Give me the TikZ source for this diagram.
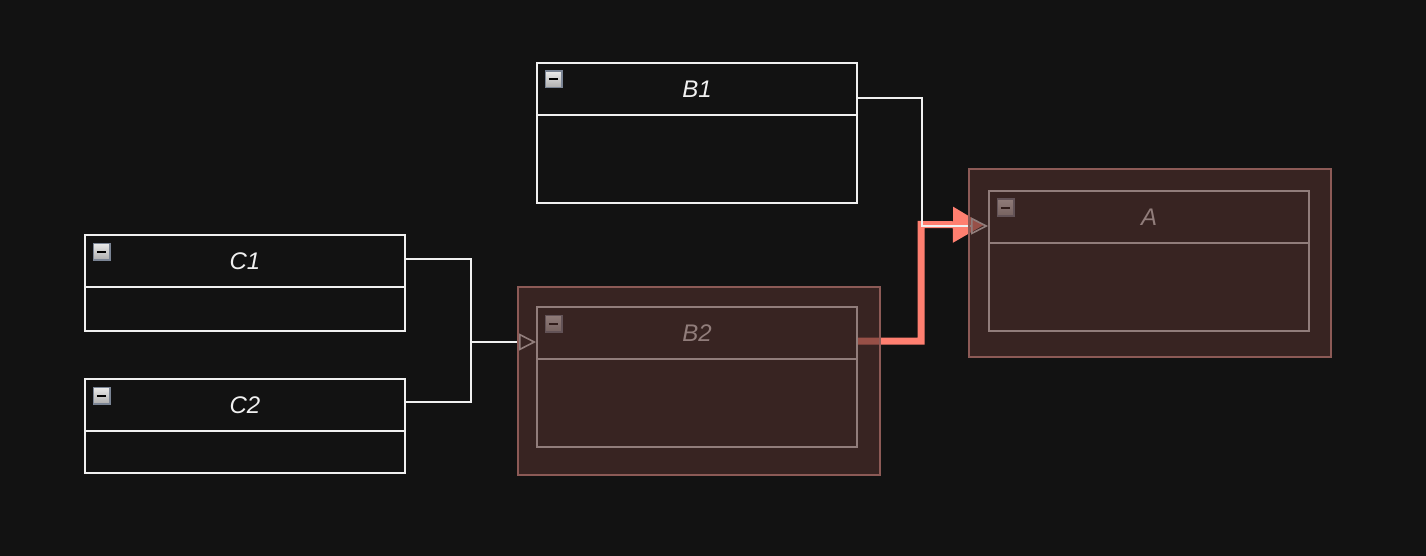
\documentclass[tikz,border=0pt]{standalone}
\usepackage{fontspec}
\setmainfont{Liberation Sans}
\usetikzlibrary{arrows.meta}
\definecolor{bg}{HTML}{121212}
\definecolor{fg}{HTML}{F0F0F0}
\definecolor{ovl}{RGB}{82,49,45}
\definecolor{ovlline}{RGB}{140,90,86}
\definecolor{hot}{RGB}{255,127,112}
\definecolor{iconborder}{RGB}{122,132,148}
\tikzset{
  hdr/.style={draw=fg, line width=2pt, fill=bg, minimum width=320pt, minimum height=52pt, inner sep=0pt,
    text=fg, font=\fontsize{24}{28}\selectfont\itshape},
  bodybox/.style={draw=fg, line width=2pt, fill=bg, minimum width=320pt, inner sep=0pt},
  icon/.style={draw=iconborder, line width=1.5pt, minimum size=16.5pt, inner sep=0pt,
    top color=white!92!black, bottom color=white!68!black,
    path picture={\draw[black, line width=2pt] ([xshift=3.5pt]path picture bounding box.west) -- ([xshift=-3.5pt]path picture bounding box.east);}},
  conn/.style={draw=fg, line width=1.6pt},
  opentip/.style={-{Triangle[open, length=17pt, width=17pt, line width=1.6pt]}},
  hotline/.style={draw=hot, line width=7pt, -{Triangle[length=31pt, width=34pt]}},
  overlay box/.style={fill=ovl, fill opacity=0.6, draw=ovlline, line width=2pt, minimum width=362pt, minimum height=188pt, inner sep=0pt},
}
\begin{document}
\begin{tikzpicture}[x=1pt,y=-1pt]
\fill[bg] (0,0) rectangle (1426,556);
\useasboundingbox (0,0) rectangle (1426,556);

% B1
\node[bodybox, minimum height=88pt] (B1b) at (697,159) {};
\node[hdr] (B1) at (697,89) {B1};
\node[icon] (B1i) at ([xshift=17.5pt,yshift=-17.5pt]B1.north west) {};
% C1
\node[bodybox, minimum height=44pt] (C1b) at (245,309) {};
\node[hdr] (C1) at (245,261) {C1};
\node[icon] (C1i) at ([xshift=17.5pt,yshift=-17.5pt]C1.north west) {};
% C2
\node[bodybox, minimum height=42pt] (C2b) at (245,452) {};
\node[hdr] (C2) at (245,405) {C2};
\node[icon] (C2i) at ([xshift=17.5pt,yshift=-17.5pt]C2.north west) {};
% B2
\node[bodybox, minimum height=88pt] (B2b) at (697,403) {};
\node[hdr] (B2) at (697,333) {B2};
\node[icon] (B2i) at ([xshift=17.5pt,yshift=-17.5pt]B2.north west) {};
% A
\node[bodybox, minimum height=88pt] (Ab) at (1149,287) {};
\node[hdr] (A) at (1149,217) {A};
\node[icon] (Ai) at ([xshift=17.5pt,yshift=-17.5pt]A.north west) {};

% connectors
\coordinate (m) at (471,342);
\coordinate (r) at (921,224.5);
\coordinate (k) at (922,226);
\draw[hotline] ([yshift=-8pt]B2.east) -| (r) -- ([xshift=-4pt,yshift=-8pt]A.west);
\draw[conn] ([yshift=2pt]C1.east) -| (m);
\draw[conn] ([yshift=3pt]C2.east) -| (m);
\draw[conn, opentip] (m) -- (B2.west |- m);
\draw[conn, opentip] ([yshift=-9pt]B1.east) -| (k) -- ([yshift=-9pt]A.west);

% overlays
\node[overlay box] (B2o) at (699,381) {};
\node[overlay box] (Ao) at (1150,263) {};
\end{tikzpicture}
\end{document}
